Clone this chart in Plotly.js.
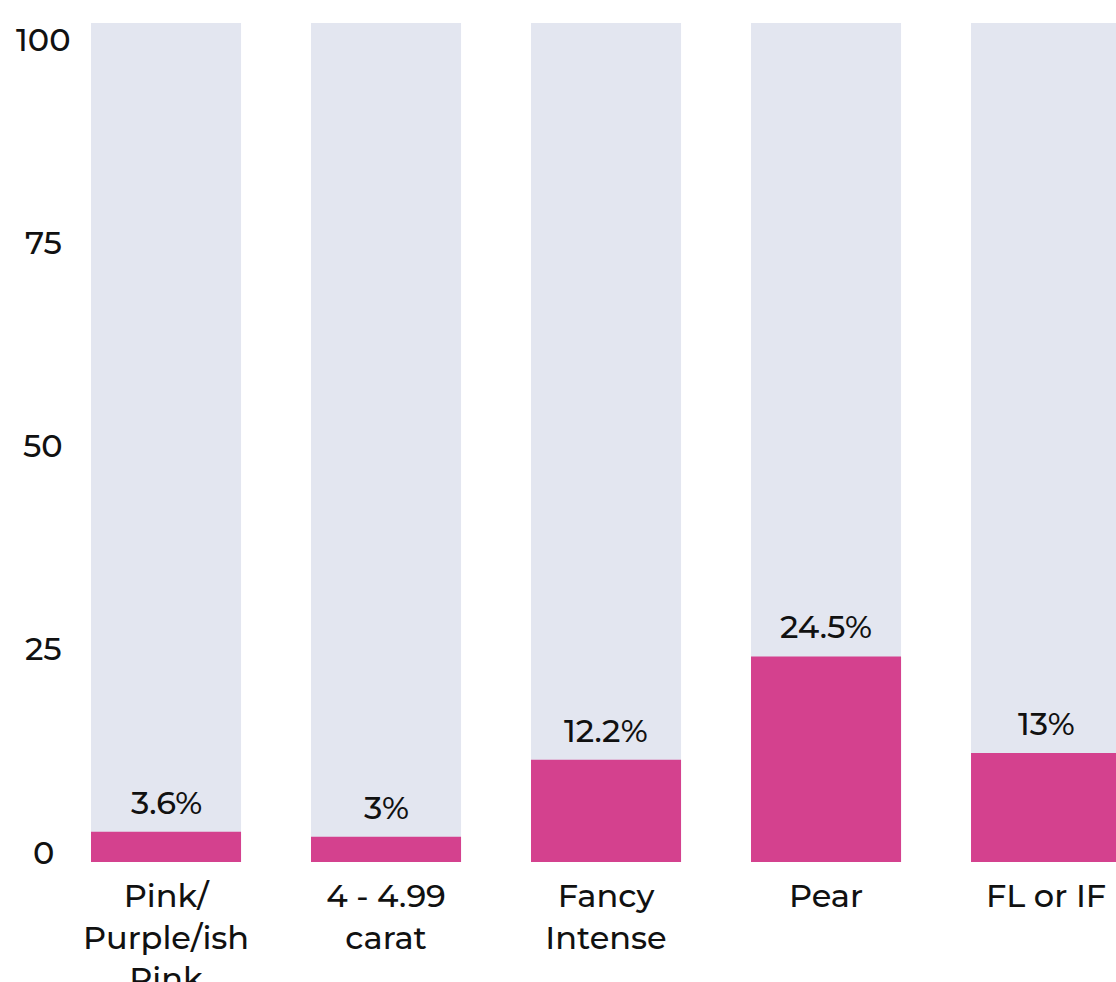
<!DOCTYPE html>
<html>
<head>
<meta charset="utf-8">
<script src="https://cdn.plot.ly/plotly-3.0.1.min.js"></script>
<style>html,body{margin:0;padding:0;background:#fff;}</style>
</head>
<body>
<div id="chart" style="width:1116px;height:982px;"></div>
<script>
const categories = ["Pink/<br>Purple/ish<br>Pink", "4 - 4.99<br>carat", "Fancy<br>Intense", "Pear", "FL or IF"];
const values = [3.6, 3, 12.2, 24.5, 13];
const totals = [100, 100, 100, 100, 100];
const valueLabels = ["3.6%", "3%", "12.2%", "24.5%", "13%"];
const yTicks = [0, 25, 50, 75, 100];

const FONT = "Montserrat, 'Open Sans', 'Noto Sans', sans-serif";
const idx = categories.map((c, i) => i);
const fnt = {family: FONT, size: 32, color: "#111", weight: 500};

const traces = [
  {type: "bar", x: idx, y: totals, marker: {color: "#e3e6f0"}, hoverinfo: "skip", showlegend: false},
  {type: "bar", x: idx, y: values, marker: {color: "#d4418e"}, hoverinfo: "skip", showlegend: false}
];

const annotations = [];
values.forEach((v, i) => {
  annotations.push({x: i, y: v, xref: "x", yref: "y", text: valueLabels[i], showarrow: false,
    xanchor: "center", yanchor: "bottom", yshift: 8, font: fnt});
});
yTicks.forEach(t => {
  annotations.push({x: 0, y: t, xref: "paper", yref: "y2", text: String(t), showarrow: false,
    xanchor: "center", yanchor: "middle", xshift: -37, font: fnt});
});

const layout = {
  width: 1116, height: 982,
  margin: {l: 80, r: 0, t: 23, b: 120, pad: 0},
  paper_bgcolor: "#fff", plot_bgcolor: "#fff",
  barmode: "overlay", bargap: 0.318,
  font: fnt,
  xaxis: {range: [-0.391, 4.318], tickvals: idx, ticktext: categories, showgrid: false, zeroline: false,
    showline: false, ticks: "", ticklabelstandoff: 12, tickfont: fnt, fixedrange: true},
  yaxis: {range: [0, 100], showticklabels: false, showgrid: false, zeroline: false, showline: false, ticks: "", fixedrange: true},
  yaxis2: {overlaying: "y", range: [-1.23, 101.97], showticklabels: false, showgrid: false, zeroline: false, showline: false, ticks: "", fixedrange: true},
  annotations: annotations,
  showlegend: false
};

Plotly.newPlot("chart", traces, layout, {displayModeBar: false, staticPlot: true});
</script>
</body>
</html>
